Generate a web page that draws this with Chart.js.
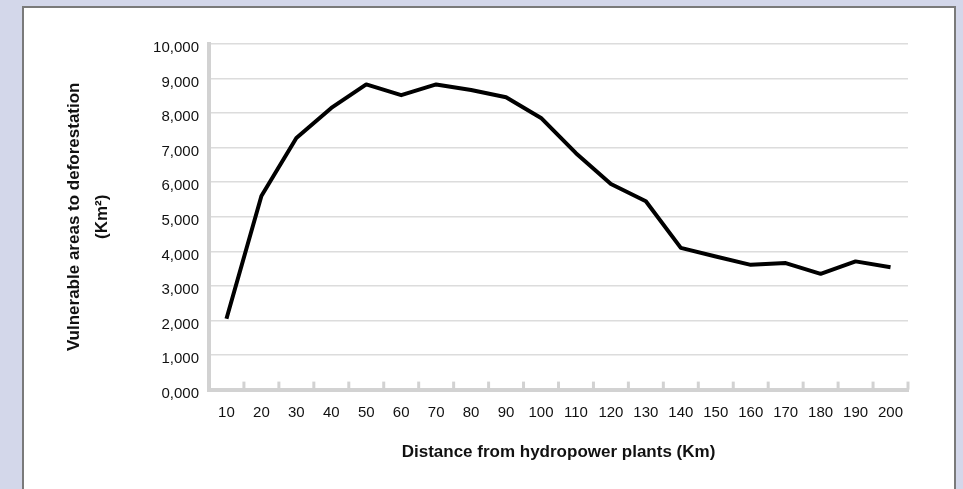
<!DOCTYPE html>
<html>
<head>
<meta charset="utf-8">
<script src="https://cdn.jsdelivr.net/npm/chart.js@4"></script>
<style>
  html, body { margin: 0; padding: 0; background: #d3d7ea; overflow: hidden; }
  #panel { position: absolute; left: 22px; top: 6px; width: 930px; height: 500px; background: #fff; border: 2px solid #7a7a7a; }
  #chart { position: absolute; left: 0; top: 0; }
</style>
</head>
<body>
<div id="panel"></div>
<canvas id="chart" width="963" height="489"></canvas>
<script>
const distances = ['10', '20', '30', '40', '50', '60', '70', '80', '90', '100', '110', '120', '130', '140', '150', '160', '170', '180', '190', '200']
const vulnerableArea = [2050, 5600, 7280, 8150, 8830, 8520, 8830, 8670, 8460, 7860, 6840, 5950, 5450, 4100, 3850, 3610, 3660, 3350, 3710, 3540]
const yTicks = [0, 1000, 2000, 3000, 4000, 5000, 6000, 7000, 8000, 9000, 10000]

const fontFamily = '"Liberation Sans", Arial, Helvetica, sans-serif'

function fmt(v) {
    if (v === 0) return '0,000'
    return v.toLocaleString('en-US')
}

// small upward tick marks on the x axis at category boundaries
const innerTicks = {
    id: 'innerTicks',
    afterDraw(chart) {
        const x = chart.scales.x
        const ctx = chart.ctx
        const y0 = x.top
        const step = x.getPixelForValue(1) - x.getPixelForValue(0)
        ctx.save()
        ctx.strokeStyle = '#d2d2d2'
        ctx.lineWidth = 3
        for (let i = 0; i <= distances.length; i++) {
            const px = x.getPixelForValue(0) - step / 2 + i * step
            ctx.beginPath()
            ctx.moveTo(px, y0)
            ctx.lineTo(px, y0 - 8)
            ctx.stroke()
        }
        ctx.restore()
    }
}

document.addEventListener('DOMContentLoaded', () => {
    const el = document.getElementById('chart')

    new Chart(el, {
        type: 'line',
        data: {
            labels: distances,
            datasets: [{
                label: 'Vulnerable areas',
                data: vulnerableArea,
                borderColor: '#000',
                borderWidth: 4,
                borderJoinStyle: 'round',
                pointRadius: 0,
                tension: 0,
                fill: false
            }]
        },
        options: {
            responsive: false,
            animation: false,
            devicePixelRatio: 1,
            layout: { padding: { left: 56, right: 55, top: 44, bottom: 22 } },
            plugins: {
                legend: { display: false },
                tooltip: { enabled: false }
            },
            scales: {
                x: {
                    offset: true,
                    grid: { display: false, drawTicks: false },
                    border: { display: true, color: '#d2d2d2', width: 4 },
                    ticks: {
                        color: '#111',
                        font: { family: fontFamily, size: 15 },
                        padding: 14,
                        maxRotation: 0,
                        autoSkip: false
                    },
                    title: {
                        display: true,
                        text: 'Distance from hydropower plants (Km)',
                        color: '#111',
                        font: { family: fontFamily, size: 17, weight: 'bold' },
                        padding: { top: 7 }
                    }
                },
                y: {
                    min: 0,
                    max: 10000,
                    afterBuildTicks(scale) {
                        scale.ticks = yTicks.map(v => ({ value: v }))
                    },
                    grid: { color: '#dcdcdc', lineWidth: 1.5, drawTicks: false },
                    border: { display: true, color: '#d2d2d2', width: 4 },
                    ticks: {
                        color: '#111',
                        font: { family: fontFamily, size: 15 },
                        padding: 10,
                        labelOffset: 4,
                        callback: v => fmt(v)
                    },
                    title: {
                        display: true,
                        text: ['Vulnerable areas to deforestation', '(Km²)'],
                        color: '#111',
                        font: { family: fontFamily, size: 17, weight: 'bold', lineHeight: 1.65 },
                        padding: { bottom: 27 }
                    }
                }
            }
        },
        plugins: [innerTicks]
    })
})
</script>
</body>
</html>
